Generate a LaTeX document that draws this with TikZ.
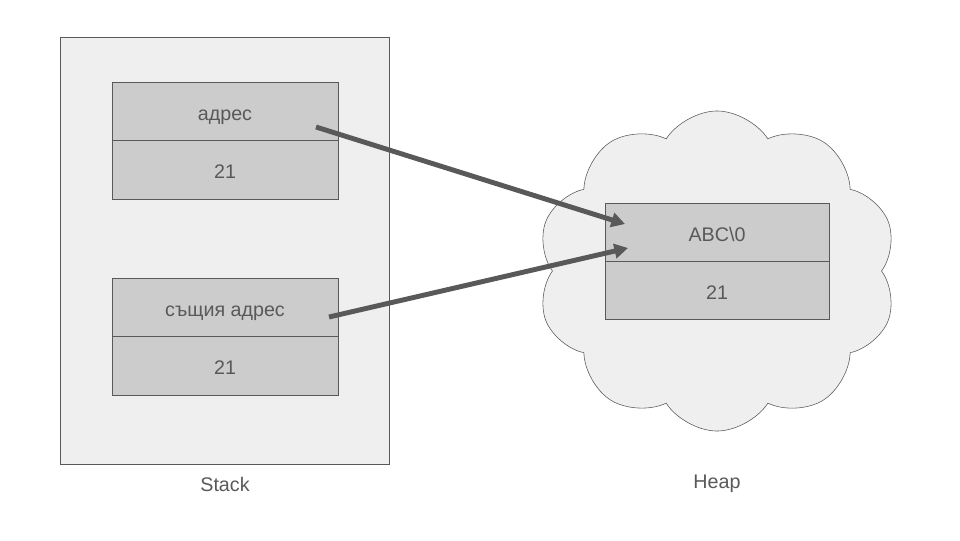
\documentclass[tikz,border=0pt]{standalone}
\usepackage{fontspec}
\setmainfont{Liberation Sans}
\usetikzlibrary{arrows.meta,shapes.symbols}
\definecolor{pale}{HTML}{EFEFEF}
\definecolor{cell}{HTML}{CCCCCC}
\definecolor{ink}{HTML}{595959}
\begin{document}
\begin{tikzpicture}[x=0.025cm, y=-0.025cm, font=\fontsize{14}{16}\selectfont,
  caption/.style={text=ink, text height=12.3pt, text depth=0pt, inner sep=0pt},
  stackcell/.style={caption, shape=rectangle, draw=ink, fill=cell, minimum width=5.65cm, minimum height=1.4625cm},
  heapcell/.style={caption, shape=rectangle, draw=ink, fill=cell, minimum width=5.6cm, minimum height=1.45cm},
  pointer/.style={-{Triangle[length=0.34cm, width=0.36cm]}, line width=3.5pt, draw=ink}]
\useasboundingbox (0,0) rectangle (960,540);
\node[shape=rectangle, draw=ink, fill=pale, minimum width=8.225cm, minimum height=10.675cm] (stack) at (224.5,250.5) {};
\node[shape=cloud, cloud puffs=10, cloud puff arc=115, aspect=1.1, draw=ink, fill=pale, minimum width=9cm, minimum height=8cm] (heap) at (717,271) {};
\node[stackcell] (addr) at (225,111.5) {адрес};
\node[stackcell] (num1) at (225,170) {21};
\node[stackcell] (same) at (225,307.5) {същия адрес};
\node[stackcell] (num2) at (225,366) {21};
\node[heapcell] (abc) at (717,232.5) {ABC\textbackslash 0};
\node[heapcell] (num3) at (717,290.5) {21};
\node[caption] (stacklabel) at (225,483) {Stack};
\node[caption] (heaplabel) at (717,480) {Heap};
\coordinate (from1) at (316,127);
\coordinate (from2) at (329,317);
\coordinate (to1) at (625,224);
\coordinate (to2) at (628,248);
\draw[pointer] (from1) -- (to1);
\draw[pointer] (from2) -- (to2);
\end{tikzpicture}
\end{document}
